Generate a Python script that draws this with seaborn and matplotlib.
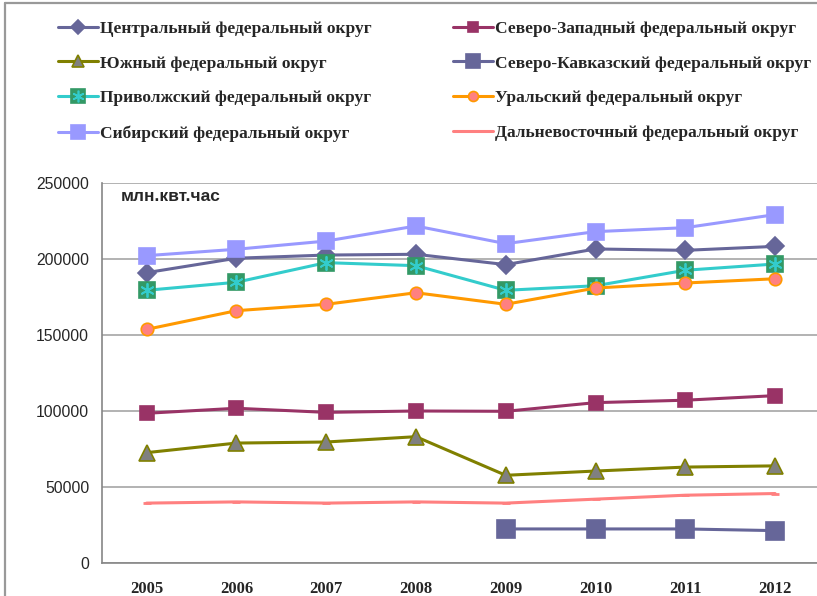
import numpy as np
import pandas as pd
import matplotlib
matplotlib.use('Agg')
import matplotlib.pyplot as plt
import seaborn as sns
from matplotlib.lines import Line2D
from matplotlib.legend_handler import HandlerTuple

years = ['2005', '2006', '2007', '2008', '2009', '2010', '2011', '2012']

central = [191200, 200700, 202800, 203300, 196500, 206800, 205900, 208500]
north_west = [98700, 102000, 99300, 100200, 100000, 105700, 107300, 110300]
south = [72800, 79100, 79800, 83300, 57900, 60700, 63300, 64100]
north_caucasus = [np.nan, np.nan, np.nan, np.nan, 22600, 22600, 22600, 21500]
volga = [179600, 184900, 197800, 195800, 179600, 182600, 192800, 196900]
ural = [153900, 166200, 170400, 178000, 170400, 181100, 184400, 187200]
siberia = [202400, 206600, 212000, 221900, 210300, 218200, 220800, 229400]
far_east = [39600, 40400, 39600, 40400, 39600, 42200, 44800, 45900]

names = ['Центральный федеральный округ', 'Северо-Западный федеральный округ',
         'Южный федеральный округ', 'Северо-Кавказский федеральный округ',
         'Приволжский федеральный округ', 'Уральский федеральный округ',
         'Сибирский федеральный округ', 'Дальневосточный федеральный округ']
series = [central, north_west, south, north_caucasus, volga, ural, siberia, far_east]

df = pd.DataFrame({n: s for n, s in zip(names, series)})
df['x'] = np.arange(len(years))

# line colour, marker, size, face, edge
styles = [
    ('#666699', 'D', 9.5, '#666699', '#666699'),
    ('#993366', 's', 9.5, '#993366', '#993366'),
    ('#808000', '^', 11, '#808080', '#808000'),
    ('#666699', 's', 12.5, '#666699', '#666699'),
    ('#33CCCC', 's', 12, '#339966', '#339966'),
    ('#FF9900', 'o', 9, '#FF8080', '#FF9900'),
    ('#9999FF', 's', 12, '#9999FF', '#9999FF'),
    ('#FF8080', '_', 6, '#FF8080', '#FF8080'),
]

sns.set_style('white')
plt.rcParams['font.family'] = ['Liberation Sans', 'DejaVu Sans']

fig = plt.figure(figsize=(8.17, 5.96), dpi=100)
ax = fig.add_axes([101.7 / 817, 32.7 / 596, (820 - 101.7) / 817, (563.3 - 183.3) / 596])

handles = []
for i, (name, st) in enumerate(zip(names, styles)):
    color, mk, ms, face, edge = st
    mew = 1.2 if mk != '_' else 2
    sns.lineplot(data=df, x='x', y=name, ax=ax, color=color, linewidth=2.2,
                 marker=mk, markersize=ms, markerfacecolor=face,
                 markeredgecolor=edge, markeredgewidth=mew,
                 zorder=3 + i, legend=False)
    h = Line2D([], [], color=color, linewidth=2.2, marker=mk,
               markersize=ms * 0.8, markerfacecolor=face,
               markeredgecolor=edge, markeredgewidth=mew)
    if i == 4:
        ax.plot(df['x'], df[name], linestyle='none', marker=(6, 2, 0),
                markersize=ms * 0.85, markeredgecolor='#33CCCC',
                markeredgewidth=1.3, zorder=3 + i)
        star = Line2D([], [], linestyle='none', marker=(6, 2, 0),
                      markersize=ms * 0.7, markeredgecolor='#33CCCC',
                      markeredgewidth=1.2)
        h = (h, star)
    handles.append(h)

ax.set_xlim(-0.5, 7.5)
ax.set_ylim(0, 250000)
ax.set_yticks(np.arange(0, 250001, 50000))
ax.set_yticklabels([str(v) for v in range(0, 250001, 50000)], fontsize=11.3)
ax.set_xticks(np.arange(-0.5, 7.6, 1.0))
ax.set_xticks(np.arange(len(years)), minor=True)
ax.set_xticklabels([])
ax.set_xticklabels(years, minor=True, fontsize=12, fontweight='bold',
                   family='Liberation Serif')
ax.tick_params(axis='x', which='major', length=6, width=1, color='#868686',
               direction='out')
ax.tick_params(axis='x', which='minor', length=0, pad=12.5)
ax.tick_params(axis='y', length=5, width=1, color='#868686', direction='out', pad=4)
ax.set_xlabel('')
ax.set_ylabel('')
ax.yaxis.grid(True, color='#a6a6a6', linewidth=1.2)
ax.set_axisbelow(True)
for side in ['top', 'right']:
    ax.spines[side].set_visible(False)
for side in ['left', 'bottom']:
    ax.spines[side].set_color('#868686')
    ax.spines[side].set_linewidth(1.2)

fig.text(121 / 817, 1 - 196 / 596, 'млн.квт.час', fontsize=12.5, fontweight='bold',
         va='center', ha='left')

# legend is filled row by row in the reference
order = [0, 2, 4, 6, 1, 3, 5, 7]
fig.legend([handles[k] for k in order], [names[k] for k in order],
           loc='upper left', bbox_to_anchor=(58 / 817, 1 - 20.5 / 596),
           ncol=2, frameon=False, handlelength=2.3, handletextpad=0.12,
           columnspacing=4.7, labelspacing=1.08, borderpad=0, borderaxespad=0,
           prop={'family': 'Liberation Serif', 'weight': 'bold', 'size': 12.5},
           handler_map={tuple: HandlerTuple(ndivide=1, pad=0)})

# chart area border
fig.add_artist(Line2D([4.7 / 817, 1.0], [1 - 2.7 / 596, 1 - 2.7 / 596],
                      transform=fig.transFigure, color='#999999', linewidth=1.6))
fig.add_artist(Line2D([4.7 / 817, 4.7 / 817], [0, 1 - 2.7 / 596],
                      transform=fig.transFigure, color='#999999', linewidth=1.6))

fig.savefig('out.png', dpi=100)
